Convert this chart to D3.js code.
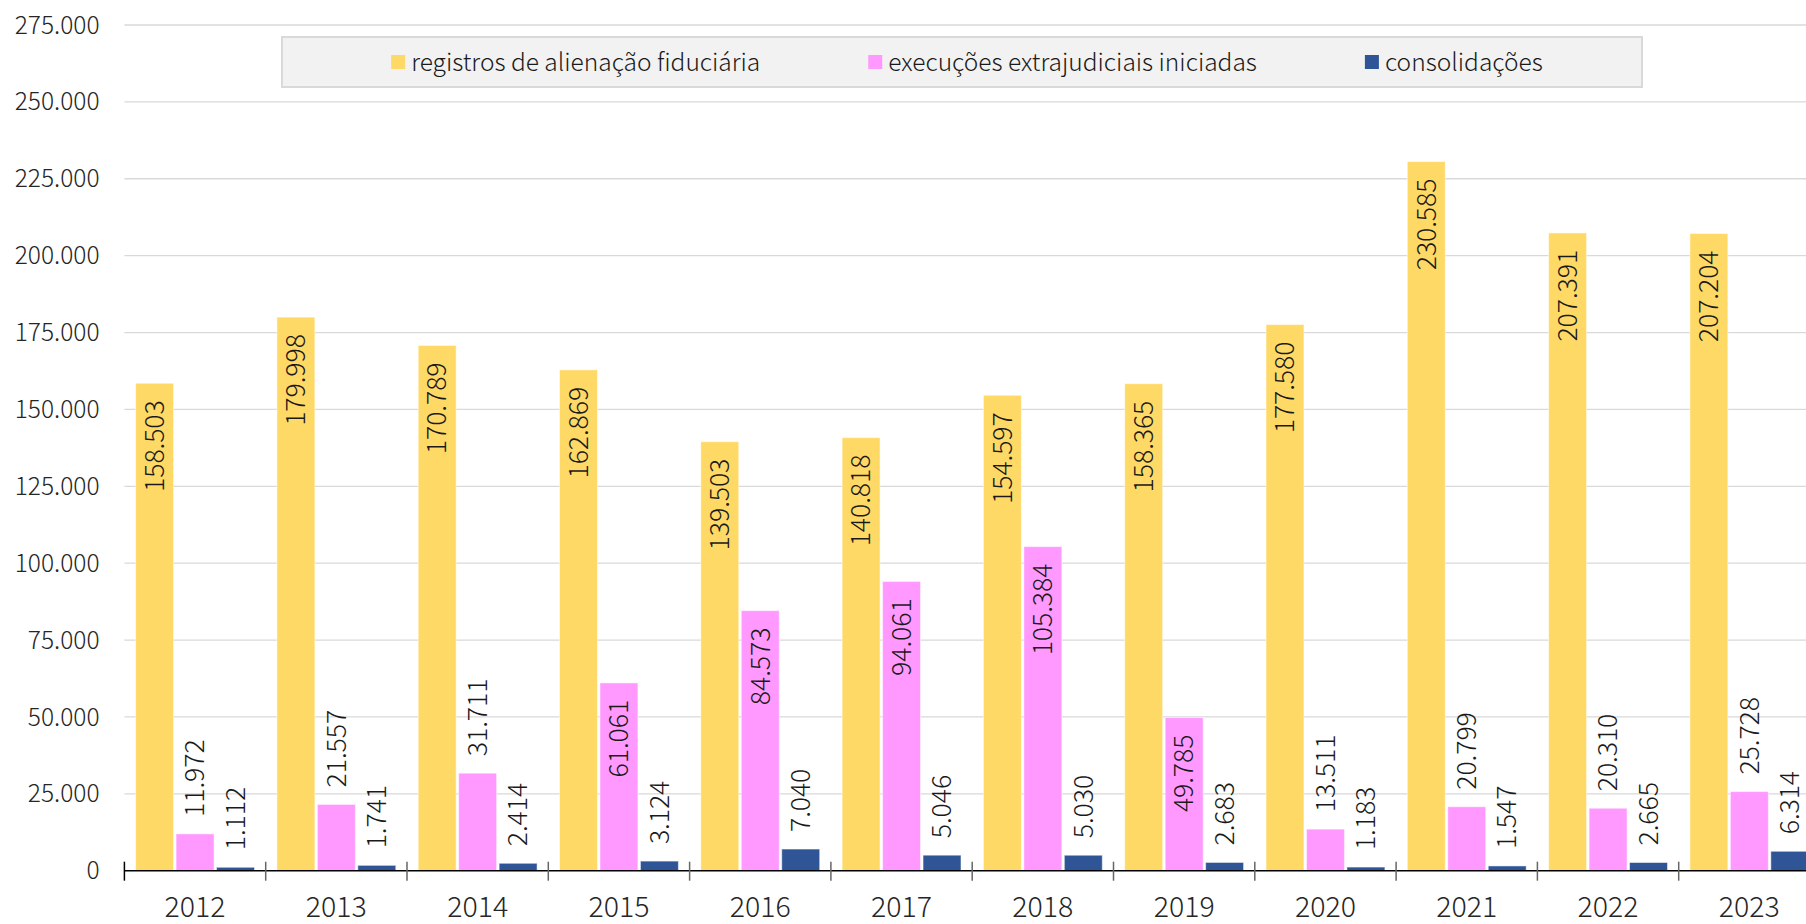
<!DOCTYPE html>
<html>
<head>
<meta charset="utf-8">
<script src="https://cdn.jsdelivr.net/npm/d3@7"></script>
<style>
  html, body { margin: 0; padding: 0; background: #fff; overflow: hidden; }
  svg { display: block; font-family: "Noto Sans CJK JP", "Noto Sans", sans-serif; font-weight: 300; }
</style>
</head>
<body>
<svg id="chart" width="1806" height="924"></svg>
<script>
const years = ['2012', '2013', '2014', '2015', '2016', '2017', '2018', '2019', '2020', '2021', '2022', '2023'];
const registros = [158503, 179998, 170789, 162869, 139503, 140818, 154597, 158365, 177580, 230585, 207391, 207204];
const execucoes = [11972, 21557, 31711, 61061, 84573, 94061, 105384, 49785, 13511, 20799, 20310, 25728];
const consolidacoes = [1112, 1741, 2414, 3124, 7040, 5046, 5030, 2683, 1183, 1547, 2665, 6314];
const seriesNames = ['registros de alienação fiduciária', 'execuções extrajudiciais iniciadas', 'consolidações'];
const colors = ['#FFD966', '#FF99FF', '#2F5597'];
const yTicks = [0, 25000, 50000, 75000, 100000, 125000, 150000, 175000, 200000, 225000, 250000, 275000];

const series = [registros, execucoes, consolidacoes];

const ptBR = d3.formatLocale({ decimal: ',', thousands: '.', grouping: [3], currency: ['R$', ''] });
const fmt = ptBR.format(',d');

const svg = d3.select('#chart');
const left = 124.4, step = 141.3;
const x = d3.scaleBand().domain(years).range([left, left + step * years.length]);
const xIn = d3.scaleBand().domain([0, 1, 2]).range([0, x.bandwidth()]).paddingInner(0.062).paddingOuter(0.277);
const y = d3.scaleLinear().domain([0, 275000]).range([870.7, 25]);

// gridlines
svg.append('g')
    .selectAll('line')
    .data(yTicks.filter(d => d > 0))
    .enter()
    .append('line')
    .attr('x1', left).attr('x2', 1806)
    .attr('y1', d => y(d)).attr('y2', d => y(d))
    .attr('stroke', '#d9d9d9').attr('stroke-width', 1.3)

// y tick labels
svg.append('g')
    .selectAll('text')
    .data(yTicks)
    .enter()
    .append('text')
    .attr('x', 99.5)
    .attr('y', d => y(d))
    .attr('dy', '0.35em')
    .attr('text-anchor', 'end')
    .attr('font-size', 24.5)
    .attr('fill', '#262626')
    .text(d => fmt(d))

// bars
const groups = svg.append('g')
    .selectAll('g')
    .data(years)
    .enter()
    .append('g')
    .attr('transform', d => `translate(${x(d)},0)`)

groups.selectAll('rect')
    .data((d, i) => series.map((s, k) => ({ k, v: s[i] })))
    .enter()
    .append('rect')
    .attr('x', d => xIn(d.k))
    .attr('width', xIn.bandwidth())
    .attr('y', d => y(d.v))
    .attr('height', d => y(0) - y(d.v))
    .attr('fill', d => colors[d.k])
    .attr('stroke', '#fff').attr('stroke-opacity', 0.5).attr('stroke-width', 1)

// data labels: inside end when they fit, else above the bar
const pad = 17;
groups.selectAll('text')
    .data((d, i) => series.map((s, k) => ({ k, v: s[i] })))
    .enter()
    .append('text')
    .attr('font-size', 26.5)
    .attr('fill', '#1a1a1a')
    .attr('dy', '0.35em')
    .text(d => fmt(d.v))
    .each(function (d) {
        const len = this.getComputedTextLength();
        const h = y(0) - y(d.v);
        const inside = d.k === 0 || (d.k === 1 && h > len + 2 * pad);
        const cx = xIn(d.k) + xIn.bandwidth() / 2;
        const ty = inside ? y(d.v) + pad : y(d.v) - pad;
        d3.select(this)
            .attr('text-anchor', inside ? 'end' : 'start')
            .attr('transform', `translate(${cx},${ty}) rotate(-90)`)
    })

// x axis
svg.append('line')
    .attr('x1', left).attr('x2', 1806)
    .attr('y1', y(0)).attr('y2', y(0))
    .attr('stroke', '#000').attr('stroke-width', 1.5)

svg.append('g')
    .selectAll('line')
    .data(d3.range(years.length + 1))
    .enter()
    .append('line')
    .attr('x1', i => left + i * step).attr('x2', i => left + i * step)
    .attr('y1', y(0) - 9).attr('y2', y(0) + 10)
    .attr('stroke', i => i === 0 ? '#000' : '#666').attr('stroke-width', 1.5)

svg.append('g')
    .selectAll('text')
    .data(years)
    .enter()
    .append('text')
    .attr('x', d => x(d) + x.bandwidth() / 2)
    .attr('y', 917)
    .attr('text-anchor', 'middle')
    .attr('font-size', 28.5)
    .attr('fill', '#262626')
    .text(d => d)

// legend
const legend = svg.append('g');
legend.append('rect')
    .attr('x', 282).attr('y', 37).attr('width', 1360).attr('height', 50)
    .attr('fill', '#f2f2f2').attr('stroke', '#d9d9d9').attr('stroke-width', 2)

const items = legend.selectAll('g')
    .data(seriesNames)
    .enter()
    .append('g')

items.append('rect')
    .attr('width', 14).attr('height', 14)
    .attr('y', 55)
    .attr('fill', (d, i) => colors[i])

items.append('text')
    .attr('x', 20)
    .attr('y', 62)
    .attr('dy', '0.35em')
    .attr('font-size', 24.5)
    .attr('fill', '#1a1a1a')
    .text(d => d)

const widths = [];
items.each(function () { widths.push(this.getBBox().width); });
const gap = 108;
const total = d3.sum(widths) + gap * (widths.length - 1);
let cur = 967 - total / 2;
items.attr('transform', (d, i) => {
    const t = `translate(${cur},0)`;
    cur += widths[i] + gap;
    return t;
})
</script>
</body>
</html>
